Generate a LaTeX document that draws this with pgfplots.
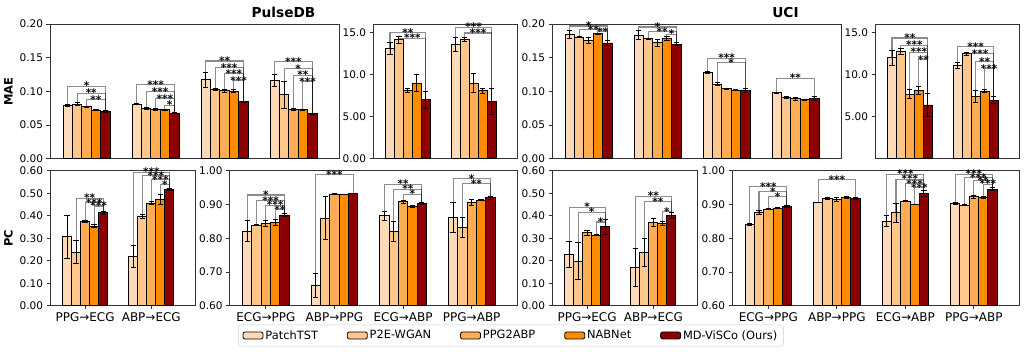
\documentclass[border=0pt]{standalone}
\usepackage{pgfplots}
\pgfplotsset{compat=1.18}
\usepackage{pgfplotstable}
\usepackage{fontspec}
\setmainfont{DejaVu Sans}

\definecolor{cA}{HTML}{FFDAB9}
\definecolor{cB}{HTML}{FFC78C}
\definecolor{cC}{HTML}{FFAD55}
\definecolor{cD}{HTML}{FF8C00}
\definecolor{cE}{HTML}{8B0000}

\def\bw{0.136}

% g = group index, m = mean, e = error; methods 1..5
\pgfplotstableread{
g m1 e1 m2 e2 m3 e3 m4 e4 m5 e5
0 0.079 0.002 0.081 0.002 0.077 0.001 0.072 0.001 0.070 0.001
1 0.081 0.001 0.0745 0.001 0.073 0.001 0.0725 0.001 0.0677 0.001
2 0.117 0.0105 0.103 0.001 0.101 0.002 0.1005 0.002 0.0845 0.001
3 0.116 0.009 0.095 0.020 0.073 0.001 0.0726 0.001 0.0667 0.001
}\tabA
\pgfplotstableread{
g m1 e1 m2 e2 m3 e3 m4 e4 m5 e5
0 13.1 0.73 14.14 0.4 8.1 0.28 9.0 1.0 7.0 1.04
1 13.58 0.85 14.14 0.25 8.97 1.1 8.1 0.3 6.84 1.55
}\tabB
\pgfplotstableread{
g m1 e1 m2 e2 m3 e3 m4 e4 m5 e5
0 0.1847 0.006 0.1807 0.001 0.1753 0.004 0.1857 0.001 0.1719 0.004
1 0.1837 0.006 0.178 0.001 0.172 0.005 0.179 0.003 0.170 0.002
2 0.128 0.001 0.1107 0.002 0.1037 0.0005 0.1017 0.001 0.1007 0.003
3 0.0978 0.001 0.0904 0.0015 0.0889 0.002 0.0874 0.001 0.0893 0.003
}\tabC
\pgfplotstableread{
g m1 e1 m2 e2 m3 e3 m4 e4 m5 e5
0 11.99 0.92 12.77 0.35 7.67 0.53 8.14 0.49 6.38 1.37
1 11.08 0.35 12.45 0.15 7.35 0.7 8.02 0.15 6.96 0.4
}\tabD
\pgfplotstableread{
g m1 e1 m2 e2 m3 e3 m4 e4 m5 e5
0 0.307 0.095 0.237 0.051 0.376 0.004 0.354 0.006 0.413 0.006
1 0.218 0.048 0.396 0.010 0.455 0.007 0.473 0.022 0.517 0.005
}\tabE
\pgfplotstableread{
g m1 e1 m2 e2 m3 e3 m4 e4 m5 e5
0 0.821 0.032 0.839 0.001 0.844 0.008 0.847 0.008 0.869 0.004
1 0.659 0.036 0.859 0.064 0.931 0.002 0.930 0.001 0.933 0.001
2 0.867 0.013 0.821 0.030 0.908 0.004 0.895 0.003 0.903 0.002
3 0.861 0.044 0.831 0.030 0.906 0.010 0.913 0.001 0.920 0.004
}\tabF
\pgfplotstableread{
g m1 e1 m2 e2 m3 e3 m4 e4 m5 e5
0 0.228 0.057 0.199 0.083 0.324 0.010 0.314 0.003 0.351 0.033
1 0.170 0.085 0.237 0.063 0.370 0.017 0.366 0.010 0.400 0.013
}\tabG
\pgfplotstableread{
g m1 e1 m2 e2 m3 e3 m4 e4 m5 e5
0 0.841 0.003 0.876 0.005 0.886 0.001 0.889 0.002 0.894 0.003
1 0.906 0.001 0.917 0.003 0.916 0.006 0.921 0.003 0.917 0.003
2 0.851 0.017 0.876 0.028 0.910 0.002 0.900 0.001 0.933 0.008
3 0.903 0.002 0.898 0.002 0.923 0.005 0.920 0.003 0.945 0.004
}\tabH

\pgfplotsset{
  panel/.style={
    scale only axis, anchor=south west,
    clip=true, clip mode=individual,
    axis line style={line width=0.8pt, black!80},
    tick align=outside, tick pos=left,
    major tick length=3.5pt,
    tick style={black!80, line width=0.8pt},
    /pgf/number format/assume math mode=true,
    yticklabel style={font=\fontsize{10.5}{12}\selectfont,
      /pgf/number format/.cd, fixed, fixed zerofill, precision=2},
    xticklabel style={font=\fontsize{12}{14}\selectfont},
    ylabel style={font=\bfseries\fontsize{11.5}{13}\selectfont},
    xmin=-0.53,
  },
  toprow/.style={panel, height=134.7pt, xtick=\empty},
  botrow/.style={panel, height=135pt},
  bars/.style={ybar, bar shift=0pt, bar width=\bw, draw=black,
    line width=0.8pt, forget plot,
    error bars/.cd, y dir=both, y explicit,
    error bar style={black, line width=0.9pt},
    error mark options={black, rotate=90, mark size=2.6pt, line width=0.9pt}},
}
\tikzset{
  sigline/.style={draw=black, opacity=0.45, line width=1.1pt},
  sigstar/.style={font=\bfseries\fontsize{10.5}{11}\selectfont, anchor=base,
    yshift=-3.6pt, inner sep=0pt},
}

\newcommand{\fivebars}[1]{%
  \addplot[fill=cA, bars] table[x expr=\thisrow{g}-2*\bw, y=m1, y error=e1] {#1};
  \addplot[fill=cB, bars] table[x expr=\thisrow{g}-\bw, y=m2, y error=e2] {#1};
  \addplot[fill=cC, bars] table[x expr=\thisrow{g}, y=m3, y error=e3] {#1};
  \addplot[fill=cD, bars] table[x expr=\thisrow{g}+\bw, y=m4, y error=e4] {#1};
  \addplot[fill=cE, bars] table[x expr=\thisrow{g}+2*\bw, y=m5, y error=e5] {#1};
}
% group, bar i, bracket level, top of bar i, top of bar 5, stars
\newcommand{\sig}[6]{%
  \draw[sigline] (axis cs:{#1+(#2-3)*\bw},#4) -- (axis cs:{#1+(#2-3)*\bw},#3)
    -- (axis cs:{#1+2*\bw},#3) -- (axis cs:{#1+2*\bw},#5);
  \node[sigstar] at (axis cs:{#1+(#2-1)*\bw/2},#3) {#6};
}

\begin{document}
\begin{tikzpicture}
\useasboundingbox (0,0) rectangle (1025pt,351pt);

\node[font=\bfseries\fontsize{13.7}{15}\selectfont] at (283.5pt,338.7pt) {PulseDB};
\node[font=\bfseries\fontsize{13.7}{15}\selectfont] at (785.5pt,338.7pt) {UCI};

% PulseDB MAE
\begin{axis}[toprow, at={(50pt,192.3pt)}, width=289pt, xmax=3.66,
  ymin=0, ymax=0.2, ytick={0,0.05,0.1,0.15,0.2}, ylabel={MAE}]
\fivebars{\tabA}
\sig{0}{1}{0.1077}{0.079}{0.070}{*}
\sig{0}{2}{0.0973}{0.081}{0.070}{**}
\sig{0}{3}{0.0874}{0.077}{0.070}{**}
\sig{1}{1}{0.1096}{0.081}{0.0677}{***}
\sig{1}{2}{0.0997}{0.0745}{0.0677}{***}
\sig{1}{3}{0.0893}{0.073}{0.0677}{***}
\sig{1}{4}{0.0795}{0.0725}{0.0677}{*}
\sig{2}{1}{0.145}{0.117}{0.0845}{**}
\sig{2}{2}{0.135}{0.103}{0.0845}{***}
\sig{2}{3}{0.126}{0.101}{0.0845}{***}
\sig{2}{4}{0.1156}{0.1005}{0.0845}{***}
\sig{3}{1}{0.144}{0.116}{0.0667}{***}
\sig{3}{2}{0.134}{0.095}{0.0667}{*}
\sig{3}{3}{0.124}{0.073}{0.0667}{**}
\sig{3}{4}{0.1145}{0.0726}{0.0667}{***}
\end{axis}

\begin{axis}[toprow, at={(373pt,192.3pt)}, width=144pt, xmax=1.66,
  ymin=0, ymax=16, ytick={0,5,10,15}, yticklabels={0.00,5.00,10.0,15.0}]
\fivebars{\tabB}
\sig{0}{1}{15.0}{13.1}{7.0}{**}
\sig{0}{2}{14.33}{14.14}{7.0}{***}
\sig{1}{1}{15.6}{13.58}{6.84}{***}
\sig{1}{2}{14.93}{14.14}{6.84}{***}
\end{axis}

% UCI MAE
\begin{axis}[toprow, at={(552pt,192.3pt)}, width=289pt, xmax=3.66,
  ymin=0, ymax=0.2, ytick={0,0.05,0.1,0.15,0.2}]
\fivebars{\tabC}
\sig{0}{1}{0.197}{0.1847}{0.1719}{*}
\sig{0}{2}{0.1915}{0.1807}{0.1719}{**}
\sig{0}{4}{0.1885}{0.1857}{0.1719}{**}
\sig{1}{1}{0.1955}{0.1837}{0.170}{*}
\sig{1}{2}{0.1886}{0.178}{0.170}{**}
\sig{1}{4}{0.185}{0.179}{0.170}{*}
\sig{2}{1}{0.149}{0.128}{0.1007}{***}
\sig{2}{2}{0.1427}{0.1107}{0.1007}{*}
\sig{3}{1}{0.1195}{0.0978}{0.0893}{**}
\end{axis}

\begin{axis}[toprow, at={(875pt,192.3pt)}, width=144pt, xmax=1.66,
  ymin=0, ymax=16, ytick={5,10,15}, yticklabels={5.00,10.0,15.0}]
\fivebars{\tabD}
\sig{0}{1}{14.34}{11.99}{6.38}{**}
\sig{0}{2}{13.47}{12.77}{6.38}{***}
\sig{0}{3}{12.65}{7.67}{6.38}{***}
\sig{0}{4}{11.75}{8.14}{6.38}{**}
\sig{1}{1}{13.32}{11.08}{6.96}{***}
\sig{1}{2}{12.46}{12.45}{6.96}{***}
\sig{1}{3}{11.55}{7.35}{6.96}{**}
\sig{1}{4}{10.68}{8.02}{6.96}{***}
\end{axis}

% PulseDB PC
\begin{axis}[botrow, at={(50pt,45.3pt)}, width=145pt, xmax=1.66,
  ymin=0, ymax=0.6, ytick={0,0.1,0.2,0.3,0.4,0.5,0.6}, ylabel={PC},
  xtick={0,1}, xticklabels={PPG→ECG,ABP→ECG}]
\fivebars{\tabE}
\sig{0}{2}{0.477}{0.237}{0.413}{**}
\sig{0}{3}{0.459}{0.376}{0.413}{***}
\sig{0}{4}{0.443}{0.354}{0.413}{***}
\sig{1}{1}{0.593}{0.218}{0.517}{***}
\sig{1}{2}{0.578}{0.396}{0.517}{***}
\sig{1}{3}{0.561}{0.455}{0.517}{***}
\sig{1}{4}{0.539}{0.473}{0.517}{*}
\end{axis}

\begin{axis}[botrow, at={(229.5pt,45.3pt)}, width=287.5pt, xmax=3.66,
  ymin=0.6, ymax=1.0, ytick={0.6,0.7,0.8,0.9,1.0},
  xtick={0,1,2,3}, xticklabels={ECG→PPG,ABP→PPG,ECG→ABP,PPG→ABP}]
\fivebars{\tabF}
\sig{0}{1}{0.928}{0.821}{0.869}{*}
\sig{0}{2}{0.911}{0.839}{0.869}{***}
\sig{0}{3}{0.898}{0.844}{0.869}{***}
\sig{0}{4}{0.885}{0.847}{0.869}{**}
\sig{1}{1}{0.989}{0.659}{0.933}{***}
\sig{2}{1}{0.960}{0.867}{0.903}{**}
\sig{2}{2}{0.945}{0.821}{0.903}{**}
\sig{2}{3}{0.930}{0.908}{0.903}{*}
\sig{3}{1}{0.977}{0.861}{0.920}{*}
\sig{3}{2}{0.962}{0.831}{0.920}{**}
\end{axis}

% UCI PC
\begin{axis}[botrow, at={(552pt,45.3pt)}, width=145pt, xmax=1.66,
  ymin=0, ymax=0.6, ytick={0,0.1,0.2,0.3,0.4,0.5,0.6},
  xtick={0,1}, xticklabels={PPG→ECG,ABP→ECG}]
\fivebars{\tabG}
\sig{0}{1}{0.437}{0.228}{0.351}{*}
\sig{0}{2}{0.415}{0.199}{0.351}{*}
\sig{0}{4}{0.372}{0.314}{0.351}{*}
\sig{1}{1}{0.487}{0.170}{0.400}{**}
\sig{1}{2}{0.462}{0.237}{0.400}{**}
\sig{1}{4}{0.418}{0.366}{0.400}{*}
\end{axis}

\begin{axis}[botrow, at={(732pt,45.3pt)}, width=287pt, xmax=3.66,
  ymin=0.6, ymax=1.0, ytick={0.6,0.7,0.8,0.9,1.0},
  xtick={0,1,2,3}, xticklabels={ECG→PPG,ABP→PPG,ECG→ABP,PPG→ABP},
  legend columns=5,
  legend image code/.code={\draw[#1] (0pt,-3.5pt) rectangle (20pt,3.5pt);},
  legend style={at={(-0.770,-0.2207)}, anchor=center, draw=black!20,
    rounded corners=2pt, font=\fontsize{11.4}{13}\selectfont,
    inner xsep=4pt, inner ysep=3.5pt,
    /tikz/every even column/.append style={column sep=27pt}},
  legend cell align=left]
\fivebars{\tabH}
\sig{0}{1}{0.953}{0.841}{0.894}{***}
\sig{0}{2}{0.938}{0.876}{0.894}{*}
\sig{0}{3}{0.923}{0.886}{0.894}{*}
\sig{1}{1}{0.974}{0.906}{0.917}{***}
\sig{2}{1}{0.990}{0.851}{0.933}{***}
\sig{2}{2}{0.975}{0.876}{0.933}{***}
\sig{2}{3}{0.962}{0.910}{0.933}{***}
\sig{2}{4}{0.950}{0.900}{0.933}{***}
\sig{3}{1}{0.990}{0.903}{0.945}{***}
\sig{3}{2}{0.980}{0.898}{0.945}{***}
\sig{3}{3}{0.970}{0.923}{0.945}{**}
\sig{3}{4}{0.960}{0.920}{0.945}{***}
\addlegendimage{fill=cA, draw=black, line width=0.8pt}
\addlegendimage{fill=cB, draw=black, line width=0.8pt}
\addlegendimage{fill=cC, draw=black, line width=0.8pt}
\addlegendimage{fill=cD, draw=black, line width=0.8pt}
\addlegendimage{fill=cE, draw=black, line width=0.8pt}
\legend{PatchTST,P2E-WGAN,PPG2ABP,NABNet,MD-ViSCo (Ours)}
\end{axis}
\end{tikzpicture}
\end{document}
